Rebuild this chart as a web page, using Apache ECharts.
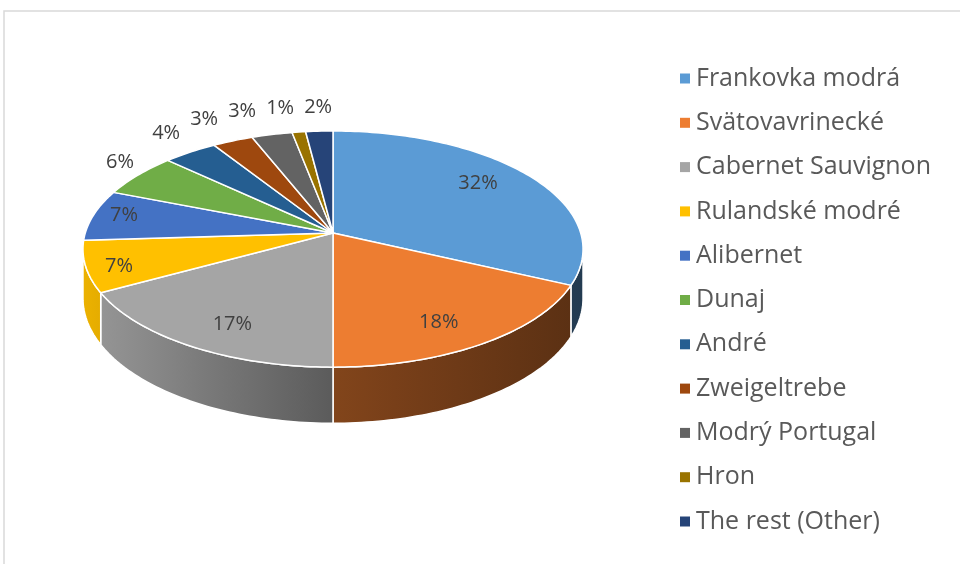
<!DOCTYPE html>
<html>
<head>
<meta charset="utf-8">
<script src="https://cdn.jsdelivr.net/npm/echarts@6/dist/echarts.min.js"></script>
<style>
  html, body { margin: 0; padding: 0; background: #fff; }
  #chart { width: 960px; height: 564px; }
</style>
</head>
<body>
<div id="chart"></div>
<script>
const categories = ['Frankovka modrá', 'Svätovavrinecké', 'Cabernet Sauvignon', 'Rulandské modré', 'Alibernet',
  'Dunaj', 'André', 'Zweigeltrebe', 'Modrý Portugal', 'Hron', 'The rest (Other)']
const shares = [32, 18, 17, 7, 7, 6, 4, 3, 3, 1, 2]

const palette = ['#5B9BD5', '#ED7D31', '#A5A5A5', '#FFC000', '#4472C4', '#70AD47',
  '#255E91', '#9E480E', '#636363', '#997300', '#264478']

// pie geometry: tilted disc with a little perspective, like the office 3d pie
const CX = 333, CY = 233, RX = 247.7, RY = 115.9, PERSP = 0.136, DEPTH = 48.5
const LABEL_FONT = '20px "Open Sans", sans-serif'

const total = shares.reduce((a, b) => a + b, 0)
const bounds = []
let acc = 0
shares.forEach(v => { bounds.push([acc / total, (acc + v) / total]); acc += v })

function angleAt(f) {
  return Math.PI / 2 - 2 * Math.PI * f
}

function project(r, a, h, ys) {
  const u = r * Math.cos(a), v = r * Math.sin(a)
  const w = 1 + PERSP * v
  return [CX + RX * u / w, CY + (-(ys || 1) * RY * v + h * DEPTH) / w]
}

function shade(hex, f) {
  const n = parseInt(hex.slice(1), 16)
  const c = [(n >> 16) & 255, (n >> 8) & 255, n & 255].map(x => Math.round(Math.min(255, x * f)))
  return 'rgb(' + c.join(',') + ')'
}

// side walls are lit from the left
function wallGradient(hex) {
  const stops = []
  for (let s = 0; s <= 8; s++) {
    const xn = s / 4 - 1
    const f = xn < 0 ? 0.55 - 0.37 * xn : 0.55 - 0.17 * xn
    stops.push({ offset: s / 8, color: shade(hex, f) })
  }
  return new echarts.graphic.LinearGradient(CX - RX, 0, CX + RX, 0, stops, true)
}

// label positions: big slices inside, small ones outside and pushed apart
const labelPos = shares.map((v, i) => {
  const a = angleAt((bounds[i][0] + bounds[i][1]) / 2)
  const inside = v >= 7
  const r = inside ? (v >= 15 ? 0.73 : 0.87) : 1.1
  const p = project(r, a, 0, inside ? 1.15 : 1.165)
  if (!inside) p[1] += 3
  return { inside, p }
})
for (let i = shares.length - 2; i >= 0; i--) {
  if (labelPos[i].inside || labelPos[i + 1].inside) continue
  labelPos[i].p[0] = Math.min(labelPos[i].p[0], labelPos[i + 1].p[0] - 38)
}

function renderSlice(params, api) {
  const i = params.seriesIndex
  const a1 = angleAt(bounds[i][0]), a2 = angleAt(bounds[i][1])
  const n = Math.max(2, Math.ceil((a1 - a2) / 0.02))
  const top = [[CX, CY]]
  for (let s = 0; s <= n; s++) top.push(project(1, a1 + (a2 - a1) * s / n, 0))
  const children = [{
    type: 'polygon',
    shape: { points: top },
    style: { fill: palette[i], stroke: '#fff', lineWidth: 1.5, lineJoin: 'round' },
    z2: 10,
  }]

  // front wall, only the part facing the viewer
  const lo = -Math.PI + Math.asin(PERSP), hi = -Math.asin(PERSP)
  const w1 = Math.min(a1, hi), w2 = Math.max(a2, lo)
  if (w1 > w2) {
    const m = Math.max(2, Math.ceil((w1 - w2) / 0.02))
    const upper = [], lower = []
    for (let s = 0; s <= m; s++) {
      const a = w1 + (w2 - w1) * s / m
      upper.push(project(1, a, 0))
      lower.unshift(project(1, a, 1))
    }
    children.push({
      type: 'polygon',
      shape: { points: upper.concat(lower) },
      style: { fill: wallGradient(palette[i]), stroke: '#fff', lineWidth: 1.5 },
      z2: 1,
    })
  }

  const lp = labelPos[i]
  children.push({
    type: 'text',
    x: lp.p[0],
    y: lp.p[1],
    style: {
      text: Math.round(shares[i] / total * 100) + '%',
      fill: '#404040',
      font: LABEL_FONT,
      align: 'center',
      verticalAlign: 'middle',
      textAlign: 'center',
      textVerticalAlign: 'middle',
    },
    z2: 20,
  })
  return { type: 'group', children }
}

const chart = echarts.init(document.getElementById('chart'))

chart.setOption({
  animation: false,
  backgroundColor: '#fff',
  legend: {
    orient: 'vertical',
    left: 675,
    top: 61,
    icon: 'rect',
    itemWidth: 10,
    itemHeight: 10,
    itemGap: 19.3,
    selectedMode: false,
    data: categories,
    textStyle: {
      fontFamily: '"Open Sans", sans-serif',
      fontSize: 25,
      lineHeight: 25,
      color: '#595959',
      padding: [0, 0, 0, 1],
    },
  },
  graphic: [{
    type: 'rect',
    silent: true,
    shape: { x: 4, y: 11, width: 1000, height: 600 },
    style: { fill: 'none', stroke: '#d9d9d9', lineWidth: 1.5 },
  }],
  series: categories.map((name, i) => ({
    type: 'custom',
    name,
    coordinateSystem: 'none',
    silent: true,
    renderItem: renderSlice,
    itemStyle: { color: palette[i] },
    data: [[shares[i]]],
  })),
})

window.addEventListener('resize', () => chart.resize())
</script>
</body>
</html>
